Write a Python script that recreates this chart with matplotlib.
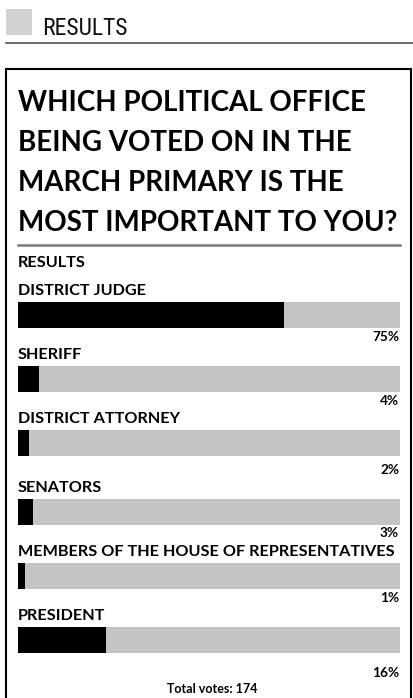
import matplotlib
matplotlib.use('Agg')
import matplotlib.pyplot as plt
from matplotlib.patches import Rectangle

# poll data
offices = ['DISTRICT JUDGE', 'SHERIFF', 'DISTRICT ATTORNEY', 'SENATORS',
           'MEMBERS OF THE HOUSE OF REPRESENTATIVES', 'PRESIDENT']
pct_labels = ['75%', '4%', '2%', '3%', '1%', '16%']
# filled part of each bar (% of the track)
bar_fill = [69.6, 5.5, 2.9, 3.9, 1.8, 23.0]
total_votes = 174
question = ['WHICH POLITICAL OFFICE', 'BEING VOTED ON IN THE',
            'MARCH PRIMARY IS THE', 'MOST IMPORTANT TO YOU?']

W, H = 414, 698
DPI = 100
fig = plt.figure(figsize=(W / DPI, H / DPI), dpi=DPI)

# background axes in pixel units (y down)
bg = fig.add_axes([0, 0, 1, 1])
bg.set_xlim(0, W)
bg.set_ylim(H, 0)
bg.axis('off')

BOLD = ['Lato', 'DejaVu Sans']
NARROW = ['Roboto Condensed', 'Open Sans Condensed', 'Liberation Sans Narrow',
          'Roboto', 'DejaVu Sans']

# header
bg.add_patch(Rectangle((6, 9), 26, 26, color='#d2d2d2', lw=0))
bg.text(42, 35, 'RESULTS', fontsize=17, family=NARROW,
        va='baseline', ha='left', color='#111111')
bg.plot([6, W], [43, 43], color='#555555', lw=1.2)

# box
bg.plot([6.5, 6.5, 411.5, 411.5], [H + 5, 68.5, 68.5, H + 5], color='black', lw=1.5,
        solid_joinstyle='miter')

# question, one line at a time
for i, line in enumerate(question):
    bg.text(18, 111 + 40 * i, line, fontsize=20, fontweight='bold', family=BOLD,
            va='baseline', ha='left', color='black')
bg.plot([18, 400], [245, 245], color='#7a7a7a', lw=1.8)
bg.text(18, 267, 'RESULTS', fontsize=11.7, fontweight='bold', family=BOLD,
        va='baseline', ha='left')

# bar rows (pixel layout)
row_top = [302, 366, 430, 499, 563, 627]
pct_base = [341, 405, 474, 537, 602, 677]
BAR_H = 26

bars = fig.add_axes([18 / W, 0, 382 / W, 1])
bars.set_xlim(0, 100)
bars.set_ylim(H, 0)
bars.axis('off')

centers = [t + BAR_H / 2 for t in row_top]
bars.barh(centers, [100] * len(offices), height=BAR_H, color='#c4c4c4', lw=0)
bars.barh(centers, bar_fill, height=BAR_H, color='black', lw=0)

for name, pct, top, pb in zip(offices, pct_labels, row_top, pct_base):
    bg.text(18, top - 7, name, fontsize=11.7, fontweight='bold', family=BOLD,
            va='baseline', ha='left')
    bg.text(399, pb, pct, fontsize=9.8, fontweight='bold', family=BOLD,
            va='baseline', ha='right')

bg.text(212, 693, f'Total votes: {total_votes}', fontsize=9, fontweight='bold',
        family=BOLD, va='baseline', ha='center')

fig.savefig('out.png', dpi=DPI)
